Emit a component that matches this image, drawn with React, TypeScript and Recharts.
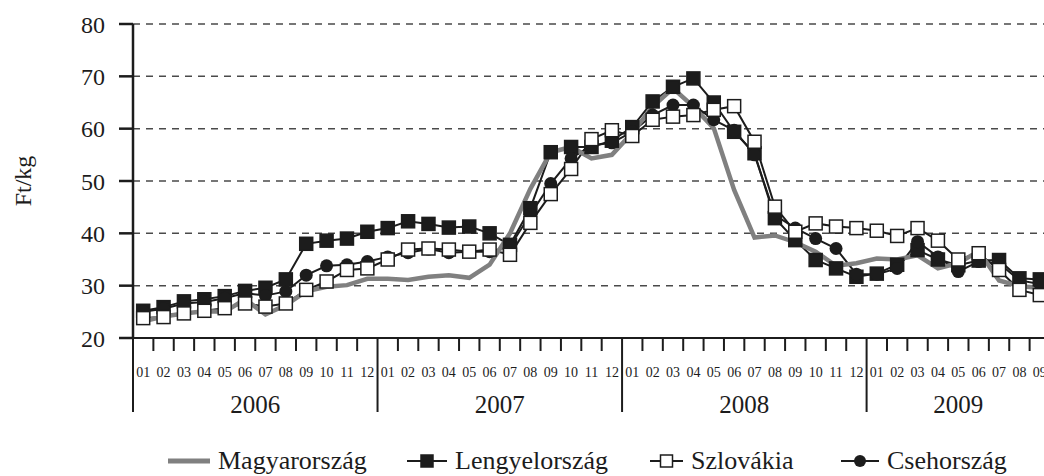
import React from "react";
import {
  LineChart,
  Line,
  XAxis,
  YAxis,
  CartesianGrid,
  Legend,
} from "recharts";

// Ft/kg, 2006-01 .. 2009-09
const YEARS = ["2006", "2007", "2008", "2009"];
const MONTHS_PER_YEAR = [12, 12, 12, 9];

const magyarorszag = [
  23.2, 24.1, 24.7, 25.1, 25.0, 27.4, 24.5, 26.3, 28.9, 29.8, 30.1, 31.3,
  31.3, 31.1, 31.7, 32.0, 31.5, 34.0, 40.0, 48.5, 55.5, 56.5, 54.3, 55.0,
  59.2, 64.2, 67.7, 64.2, 60.1, 48.3, 39.2, 39.6, 38.3, 36.5, 33.8, 34.3,
  35.2, 35.0, 35.8, 33.3, 34.3, 36.6, 31.0, 29.9, 29.6,
];
const lengyelorszag = [
  25.2, 25.9, 27.0, 27.4, 28.0, 29.0, 29.6, 31.2, 38.0, 38.6, 39.0, 40.3,
  41.0, 42.3, 41.8, 41.1, 41.3, 40.0, 37.8, 44.8, 55.5, 56.5, 56.5, 57.7,
  60.3, 65.2, 68.0, 69.6, 65.0, 59.4, 55.3, 42.9, 38.7, 34.9, 33.3, 31.7,
  32.3, 34.0, 36.8, 35.0, 33.9, 34.8, 34.9, 31.4, 31.2,
];
const szlovakia = [
  23.8, 24.0, 24.7, 25.2, 25.7, 26.6, 26.0, 26.6, 29.2, 30.8, 33.0, 33.3,
  35.0, 36.9, 37.1, 36.9, 36.5, 36.9, 35.9, 42.0, 47.5, 52.3, 58.0, 59.7,
  58.6, 61.7, 62.3, 62.6, 63.6, 64.3, 57.5, 45.1, 40.3, 41.9, 41.3, 41.0,
  40.5, 39.5, 41.0, 38.6, 35.0, 36.2, 33.0, 29.2, 28.2,
];
const csehorszag = [
  25.0, 25.6, 26.6, 26.9, 27.6, 28.6, 28.1, 28.9, 32.0, 33.8, 34.0, 34.6,
  35.5, 36.3, 37.0, 36.3, 36.5, 36.5, 37.5, 43.6, 49.5, 54.3, 56.8, 57.3,
  59.4, 62.6, 64.5, 64.5, 61.7, 59.7, 55.0, 43.5, 41.0, 39.0, 37.1, 32.2,
  32.2, 33.3, 38.4, 35.5, 32.7, 34.6, 34.3, 31.0, 30.3,
];
const Y_TICKS = [20, 30, 40, 50, 60, 70, 80];

const FONT = "'Liberation Serif', 'Times New Roman', serif";
const INK = "#1c1c1c";
const GREY = "#808080";

const CHART_W = 1056;
const CHART_H = 476;
const MARGIN = { top: 24, right: 6, left: 0, bottom: 0 };
const YAXIS_W = 133;

const rows: any[] = [];
YEARS.forEach((year, yi) => {
  for (let m = 0; m < MONTHS_PER_YEAR[yi]; m++) {
    const i = rows.length;
    rows.push({
      key: `${year}-${String(m + 1).padStart(2, "0")}`,
      month: String(m + 1).padStart(2, "0"),
      year,
      monthIndex: m,
      yearMonths: MONTHS_PER_YEAR[yi],
      hu: magyarorszag[i],
      pl: lengyelorszag[i],
      sk: szlovakia[i],
      cz: csehorszag[i],
    });
  }
});

const BAND = (CHART_W - MARGIN.left - MARGIN.right - YAXIS_W) / rows.length;

const MonthTick = (props: any) => {
  const { x, y, index } = props;
  const row = rows[index];
  if (!row) return null;
  const left = x - BAND / 2;
  const yearStart = row.monthIndex === 0;
  return (
    <g>
      <line
        x1={left}
        x2={left}
        y1={y}
        y2={yearStart ? y + 74 : y + 13}
        stroke={INK}
        strokeWidth={2}
      />
      <text
        x={x}
        y={y + 39}
        textAnchor="middle"
        fontFamily={FONT}
        fontSize={14}
        fill={INK}
      >
        {row.month}
      </text>
      {yearStart && (
        <text
          x={left + (row.yearMonths * BAND) / 2}
          y={y + 75}
          textAnchor="middle"
          fontFamily={FONT}
          fontSize={25}
          fill={INK}
        >
          {row.year}
        </text>
      )}
    </g>
  );
};

const squareDot = (filled: boolean, size: number) => (props: any) => {
  const { cx, cy, index } = props;
  if (cx == null || cy == null) return <g key={index} />;
  return (
    <rect
      key={index}
      x={cx - size / 2}
      y={cy - size / 2}
      width={size}
      height={size}
      fill={filled ? INK : "#ffffff"}
      stroke={INK}
      strokeWidth={1.5}
    />
  );
};

const SERIES = [
  { name: "Magyarország", kind: "grey" },
  { name: "Lengyelország", kind: "filled" },
  { name: "Szlovákia", kind: "open" },
  { name: "Csehország", kind: "circle" },
];
const LEGEND_X = [168, 407, 650, 841];

const LegendIcon = ({ kind }: { kind: string }) => {
  if (kind === "grey") {
    return (
      <svg width={42} height={16}>
        <line x1={0} x2={42} y1={8} y2={8} stroke={GREY} strokeWidth={5} strokeLinecap="round" />
      </svg>
    );
  }
  const w = kind === "open" ? 33 : kind === "circle" ? 38 : 40;
  return (
    <svg width={w} height={16}>
      <line x1={0} x2={w} y1={8} y2={8} stroke={INK} strokeWidth={2} />
      {kind === "circle" ? (
        <circle cx={w / 2} cy={8} r={6} fill={INK} />
      ) : (
        <rect
          x={w / 2 - 6}
          y={2}
          width={12}
          height={12}
          fill={kind === "filled" ? INK : "#fff"}
          stroke={INK}
          strokeWidth={1.5}
        />
      )}
    </svg>
  );
};

const renderLegend = () => (
  <div style={{ position: "relative", height: 64, width: 1044 }}>
    {SERIES.map((s, i) => (
      <div
        key={s.name}
        style={{
          position: "absolute",
          left: LEGEND_X[i],
          top: 34,
          height: 30,
          display: "flex",
          alignItems: "center",
          gap: 8,
          fontFamily: FONT,
          fontSize: 26,
          color: INK,
          whiteSpace: "nowrap",
        }}
      >
        <LegendIcon kind={s.kind} />
        <span>{s.name}</span>
      </div>
    ))}
  </div>
);

const YLabel = (props: any) => {
  const { viewBox } = props;
  const cy = viewBox.y + viewBox.height / 2;
  return (
    <text
      x={23}
      y={cy}
      transform={`rotate(-90, 23, ${cy})`}
      textAnchor="middle"
      dominantBaseline="central"
      fontFamily={FONT}
      fontSize={24}
      fill={INK}
    >
      Ft/kg
    </text>
  );
};

export default function App() {
  return (
    <div
      style={{
        position: "absolute",
        left: 0,
        top: 0,
        width: 1044,
        height: CHART_H,
        overflow: "hidden",
        background: "#fff",
      }}
    >
      <LineChart width={CHART_W} height={CHART_H} data={rows} margin={MARGIN}>
        <CartesianGrid
          vertical={false}
          stroke="#4a4a4a"
          strokeWidth={1.5}
          strokeDasharray="7 6"
        />
        <XAxis
          dataKey="key"
          scale="band"
          interval={0}
          height={74}
          tickSize={0}
          tickMargin={0}
          tickLine={false}
          axisLine={{ stroke: INK, strokeWidth: 2 }}
          tick={<MonthTick />}
        />
        <YAxis
          domain={[20, 80]}
          ticks={Y_TICKS}
          width={YAXIS_W}
          tickSize={14}
          tickMargin={14}
          tickLine={{ stroke: INK, strokeWidth: 2.5 }}
          axisLine={{ stroke: INK, strokeWidth: 2.5 }}
          tick={{ fontFamily: FONT, fontSize: 24, fill: INK }}
          label={<YLabel />}
        />
        <Legend verticalAlign="bottom" height={64} content={renderLegend} wrapperStyle={{ left: 0, bottom: 0 }} />
        <Line
          dataKey="pl"
          name="Lengyelország"
          stroke={INK}
          strokeWidth={2}
          dot={squareDot(true, 13)}
          isAnimationActive={false}
        />
        <Line
          dataKey="cz"
          name="Csehország"
          stroke={INK}
          strokeWidth={2}
          dot={{ r: 6.5, fill: INK, stroke: INK, strokeWidth: 0 }}
          isAnimationActive={false}
        />
        <Line
          dataKey="sk"
          name="Szlovákia"
          stroke={INK}
          strokeWidth={2}
          dot={squareDot(false, 13)}
          isAnimationActive={false}
        />
        <Line
          dataKey="hu"
          name="Magyarország"
          stroke={GREY}
          strokeWidth={4.5}
          dot={false}
          isAnimationActive={false}
        />
      </LineChart>
    </div>
  );
}
